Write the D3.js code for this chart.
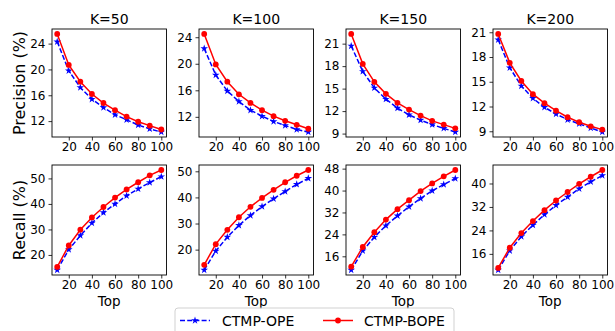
<!DOCTYPE html>
<html>
<head>
<meta charset="utf-8">
<script src="https://cdn.jsdelivr.net/npm/d3@7"></script>
<style>
  html, body { margin: 0; padding: 0; background: #fff; }
  svg { display: block; font-family: "DejaVu Sans", sans-serif; }
  .tick text { font-family: "DejaVu Sans", sans-serif; font-size: 12px; fill: #000; }
  .tick line { stroke: #000; stroke-width: 0.8; }
</style>
</head>
<body>
<svg id="chart" width="615" height="331"></svg>
<script>
// Top-N cut-offs on the x axis
const tops = [10, 20, 30, 40, 50, 60, 70, 80, 90, 100];
const kLabels = ["K=50", "K=100", "K=150", "K=200"];
const seriesNames = ["CTMP-OPE", "CTMP-BOPE"];

// Precision (%) per K, one array per panel
const precisionOPE = [
  [24.3, 19.8, 17.2, 15.4, 14.1, 13.0, 12.2, 11.4, 10.8, 10.3],
  [22.3, 18.3, 15.9, 14.3, 13.0, 12.1, 11.3, 10.7, 10.1, 9.7],
  [20.7, 17.3, 15.1, 13.6, 12.4, 11.5, 10.8, 10.2, 9.7, 9.2],
  [20.1, 16.7, 14.5, 13.0, 11.9, 11.1, 10.4, 9.9, 9.4, 8.9]
];
const precisionBOPE = [
  [25.5, 20.7, 18.1, 16.2, 14.8, 13.7, 12.7, 11.9, 11.3, 10.7],
  [24.5, 19.9, 17.3, 15.4, 14.1, 13.0, 12.1, 11.4, 10.8, 10.2],
  [22.3, 18.3, 15.9, 14.3, 13.1, 12.2, 11.4, 10.7, 10.2, 9.7],
  [20.8, 17.3, 15.1, 13.5, 12.4, 11.5, 10.7, 10.1, 9.6, 9.2]
];

// Recall (%) per K
const recallOPE = [
  [14.1, 22.1, 27.6, 32.5, 36.6, 40.0, 43.2, 45.9, 48.4, 50.7],
  [12.2, 19.5, 24.8, 29.3, 33.1, 36.5, 39.5, 42.3, 45.0, 47.3],
  [11.0, 18.0, 23.0, 27.2, 30.8, 34.1, 37.1, 39.9, 42.2, 44.4],
  [10.5, 17.1, 21.9, 25.8, 29.4, 32.6, 35.4, 38.2, 40.6, 42.7]
];
const recallBOPE = [
  [15.3, 23.7, 29.9, 34.7, 38.8, 42.5, 45.7, 48.5, 51.2, 53.3],
  [14.2, 22.1, 27.6, 32.4, 36.4, 39.8, 42.9, 45.8, 48.3, 50.5],
  [12.2, 19.4, 24.8, 29.4, 33.2, 36.5, 39.8, 42.6, 45.2, 47.5],
  [11.2, 18.1, 23.1, 27.2, 30.9, 34.2, 37.1, 39.9, 42.3, 44.6]
];

// Tick labels
const xTicks = [20, 40, 60, 80, 100];
const precisionTicks = [[12, 16, 20, 24], [12, 16, 20, 24], [9, 12, 15, 18, 21], [9, 12, 15, 18, 21]];
const recallTicks = [[20, 30, 40, 50], [20, 30, 40, 50], [16, 24, 32, 40, 48], [16, 24, 32, 40]];

// ---- layout ----
const svg = d3.select("#chart");
const colLefts = [52, 199, 346, 493];
const panelW = 114.5;
const rows = [
  { top: 29, bottom: 137, ope: precisionOPE, bope: precisionBOPE, ticks: precisionTicks, label: "Precision (%)", xlabel: false },
  { top: 165, bottom: 275, ope: recallOPE, bope: recallBOPE, ticks: recallTicks, label: "Recall (%)", xlabel: true }
];
const blue = "#0000ff", red = "#ff0000";
const lineW = 1.5, dash = "5,2.2", starSize = 18, dotR = 2.9;

// matplotlib-style autoscale with 5% margins
function padded(lo, hi) {
  const m = (hi - lo) * 0.05;
  return [lo - m, hi + m];
}

rows.forEach((row, ri) => {
  colLefts.forEach((left, ci) => {
    const x = d3.scaleLinear().domain(padded(d3.min(tops), d3.max(tops))).range([left, left + panelW]);
    const all = row.ope[ci].concat(row.bope[ci]);
    const y = d3.scaleLinear().domain(padded(d3.min(all), d3.max(all))).range([row.bottom, row.top]);

    const g = svg.append("g");

    // axes
    const xa = g.append("g").attr("transform", `translate(0,${row.bottom})`)
      .call(d3.axisBottom(x).tickValues(xTicks).tickSize(3.5).tickPadding(2.2).tickSizeOuter(0));
    xa.select(".domain").remove();
    const ya = g.append("g").attr("transform", `translate(${left},0)`)
      .call(d3.axisLeft(y).tickValues(row.ticks[ci]).tickSize(3.5).tickPadding(3).tickSizeOuter(0));
    ya.select(".domain").remove();

    // series
    const line = d3.line().x((d, i) => x(tops[i])).y(d => y(d));

    g.append("path").datum(row.ope[ci])
      .attr("d", line).attr("fill", "none").attr("stroke", blue)
      .attr("stroke-width", lineW).attr("stroke-dasharray", dash);
    g.selectAll(".ope").data(row.ope[ci]).join("path")
      .attr("transform", (d, i) => `translate(${x(tops[i])},${y(d)})`)
      .attr("d", d3.symbol(d3.symbolStar, starSize)).attr("fill", blue);

    g.append("path").datum(row.bope[ci])
      .attr("d", line).attr("fill", "none").attr("stroke", red).attr("stroke-width", lineW);
    g.selectAll(".bope").data(row.bope[ci]).join("circle")
      .attr("cx", (d, i) => x(tops[i])).attr("cy", d => y(d)).attr("r", dotR).attr("fill", red);

    // frame
    g.append("rect").attr("x", left).attr("y", row.top)
      .attr("width", panelW).attr("height", row.bottom - row.top)
      .attr("fill", "none").attr("stroke", "#000").attr("stroke-width", 0.9);

    if (ri === 0) {
      g.append("text").attr("x", left + panelW / 2).attr("y", row.top - 5.5)
        .attr("text-anchor", "middle").attr("font-size", 14).text(kLabels[ci]);
    }
    if (row.xlabel) {
      g.append("text").attr("x", left + panelW / 2).attr("y", 305.5)
        .attr("text-anchor", "middle").attr("font-size", 13.5).text("Top");
    }
    if (ci === 0) {
      g.append("text")
        .attr("transform", `translate(25,${(row.top + row.bottom) / 2}) rotate(-90)`)
        .attr("text-anchor", "middle").attr("font-size", 16).text(row.label);
    }
  });
});

// ---- legend ----
const lg = svg.append("g");
lg.append("rect").attr("x", 175).attr("y", 308).attr("width", 279).attr("height", 34)
  .attr("rx", 3).attr("fill", "#fff").attr("fill-opacity", 0.8)
  .attr("stroke", "#cccccc").attr("stroke-width", 0.9);
const legendItems = [
  { name: seriesNames[0], color: blue, dash: dash, x0: 180, tx: 222, marker: "star" },
  { name: seriesNames[1], color: red, dash: null, x0: 323, tx: 364, marker: "circle" }
];
legendItems.forEach(it => {
  const ly = 320.5;
  lg.append("line").attr("x1", it.x0).attr("x2", it.x0 + 30).attr("y1", ly).attr("y2", ly)
    .attr("stroke", it.color).attr("stroke-width", lineW)
    .attr("stroke-dasharray", it.dash);
  if (it.marker === "star") {
    lg.append("path").attr("transform", `translate(${it.x0 + 15},${ly})`)
      .attr("d", d3.symbol(d3.symbolStar, starSize)).attr("fill", it.color);
  } else {
    lg.append("circle").attr("cx", it.x0 + 15).attr("cy", ly).attr("r", dotR).attr("fill", it.color);
  }
  lg.append("text").attr("x", it.tx).attr("y", ly + 5).attr("font-size", 14).text(it.name);
});
</script>
</body>
</html>
